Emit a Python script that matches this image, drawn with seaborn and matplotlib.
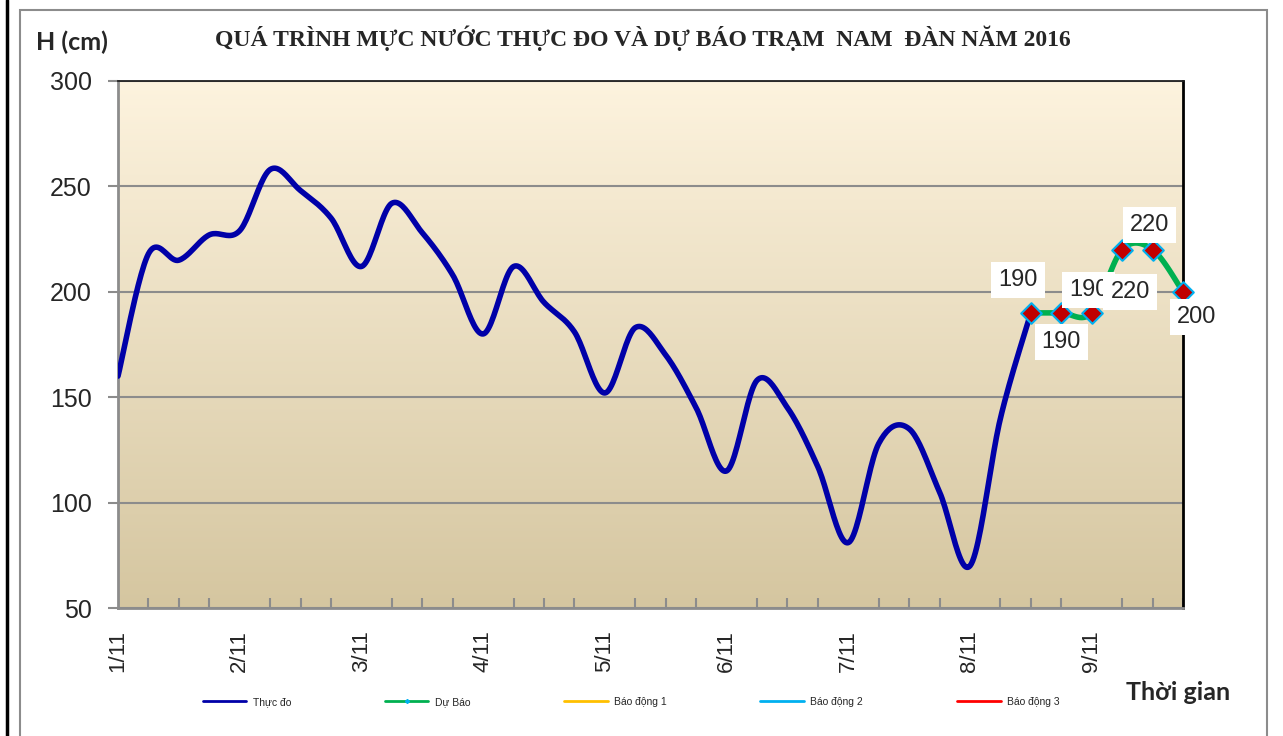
import numpy as np
import pandas as pd
import matplotlib
matplotlib.use("Agg")
import matplotlib.pyplot as plt
import seaborn as sns
from matplotlib.lines import Line2D
from matplotlib.patches import Rectangle

sns.set_theme(style="white")
plt.rcParams['font.family'] = ['Liberation Sans', 'DejaVu Sans']

# 6-hourly water level at Nam Dan, from 1/11 0h
thuc_do = [160, 218, 215, 227, 229, 258, 248, 235, 212, 242, 228, 208,
           180, 212, 195, 181, 152, 183, 170, 145, 115, 158, 145, 117,
           81, 128, 135, 105, 70, 140, 190]
du_bao = [190, 190, 190, 220, 220, 200]
du_bao_start = 30
day_labels = ['1/11', '2/11', '3/11', '4/11', '5/11', '6/11', '7/11', '8/11', '9/11']
steps_per_day = 4
n_steps = 35


def smooth(x, y, n=24):
    # catmull-rom curve through the points, like excel's smoothed line
    x = np.asarray(x, float)
    y = np.asarray(y, float)
    px = np.concatenate([[x[0]], x, [x[-1]]])
    py = np.concatenate([[y[0]], y, [y[-1]]])
    xs, ys = [], []
    t = np.linspace(0, 1, n)
    for i in range(1, len(px) - 2):
        for p, out in ((px, xs), (py, ys)):
            p0, p1, p2, p3 = p[i - 1], p[i], p[i + 1], p[i + 2]
            out.extend(0.5 * ((2 * p1) + (-p0 + p2) * t
                              + (2 * p0 - 5 * p1 + 4 * p2 - p3) * t ** 2
                              + (-p0 + 3 * p1 - 3 * p2 + p3) * t ** 3))
    return np.array(xs), np.array(ys)


obs = pd.DataFrame({'step': np.arange(len(thuc_do)), 'h': thuc_do})
fc = pd.DataFrame({'step': np.arange(du_bao_start, du_bao_start + len(du_bao)), 'h': du_bao})

fig = plt.figure(figsize=(12.83, 7.36), dpi=100)
ax = fig.add_axes([118 / 1283, 128 / 736, 1065 / 1283, 527 / 736])

# frame lines around the chart
fig.add_artist(Line2D([7 / 1283, 7 / 1283], [0, 1], color='black', lw=2.5))
fig.add_artist(Rectangle((20 / 1283, -0.01), 1247 / 1283, 1 - 10 / 736 + 0.01,
                         fill=False, edgecolor='#8c8c8c', lw=1.5))

# gradient background
grad = np.linspace(0, 1, 256)[:, None]
top = np.array([253, 243, 222]) / 255
bot = np.array([213, 198, 160]) / 255
img = top + (bot - top) * grad[..., None]
ax.imshow(img, extent=[0, n_steps, 50, 300], aspect='auto', zorder=0)

ax.set_xlim(0, n_steps)
ax.set_ylim(50, 300)
ax.set_yticks([50, 100, 150, 200, 250, 300])
ax.yaxis.grid(True, color='#8c8c8c', lw=1.5, zorder=1)
ax.set_axisbelow(True)

sx, sy = smooth(obs['step'], obs['h'])
sns.lineplot(x=sx, y=sy, sort=False, ax=ax, color='#0000A8', lw=4, zorder=3)
fx, fy = smooth(fc['step'], fc['h'])
sns.lineplot(x=fx, y=fy, sort=False, ax=ax, color='#00B050', lw=4, zorder=3)
sns.scatterplot(data=fc, x='step', y='h', ax=ax, marker='D', s=110, color='#C00000',
                edgecolor='#00B0F0', linewidth=1.5, zorder=5, clip_on=False)

# value labels on forecast points
offsets = [(-13, 33), (0, -29), (-3, 23), (8, -42), (-3, 25), (14, -25)]
for (st, h), (dx, dy) in zip(fc.itertuples(index=False), offsets):
    ax.annotate(str(h), (st, h), xytext=(dx, dy), textcoords='offset pixels',
                ha='center', va='center', fontsize=17, zorder=6,
                bbox=dict(boxstyle='square,pad=0.3', fc='white', ec='none'),
                annotation_clip=False)

ax.set_xticks(np.arange(0, steps_per_day * len(day_labels), steps_per_day))
ax.set_xticklabels(day_labels, rotation=90, fontsize=16)
ax.set_xticks(np.arange(0, n_steps + 1), minor=True)
ax.tick_params(axis='x', which='both', direction='in', length=7, width=1.5,
               color='#8c8c8c', pad=16, bottom=True)
ax.tick_params(axis='x', which='major', length=0)
ax.tick_params(axis='y', direction='out', length=7, width=1.5, color='#8c8c8c',
               labelsize=18, pad=12, left=True)
ax.set_xlabel('')
ax.set_ylabel('')

for side in ['left', 'bottom']:
    ax.spines[side].set_color('#8c8c8c')
    ax.spines[side].set_linewidth(2)
ax.spines['top'].set_color('#202020')
ax.spines['top'].set_linewidth(1.3)
ax.spines['right'].set_color('black')
ax.spines['right'].set_linewidth(2)

fig.text(643 / 1283, 1 - 38 / 736, 'QUÁ TRÌNH MỰC NƯỚC THỰC ĐO VÀ DỰ BÁO TRẠM  NAM  ĐÀN NĂM 2016',
         ha='center', va='center', fontsize=17, fontweight='bold',
         family=['Liberation Serif', 'DejaVu Serif'])
fig.text(72 / 1283, 1 - 42 / 736, 'H (cm)', ha='center', va='center', fontsize=18,
         fontweight='bold', family=['Lato', 'DejaVu Sans'])
fig.text(1178 / 1283, 1 - 693 / 736, 'Thời gian', ha='center', va='center', fontsize=18,
         fontweight='bold', family=['Lato', 'DejaVu Sans'])

handles = [
    Line2D([], [], color='#0000A8', lw=2),
    Line2D([], [], color='#00B050', lw=2, marker='D', markersize=2,
           markerfacecolor='#00B0F0', markeredgecolor='#00B0F0', markevery=[1]),
    Line2D([], [], color='#FFC000', lw=2),
    Line2D([], [], color='#00B0F0', lw=2),
    Line2D([], [], color='#FF0000', lw=2),
]
names = ['Thực đo', 'Dự Báo', 'Báo động 1', 'Báo động 2', 'Báo động 3']
fig.legend(handles, names, loc='center', bbox_to_anchor=(631 / 1283, 1 - 702 / 736),
           ncol=5, frameon=False, fontsize=7.5, handlelength=4.2, columnspacing=9,
           handletextpad=0.6, numpoints=1)

plt.savefig('out.png', dpi=100)
plt.close()
